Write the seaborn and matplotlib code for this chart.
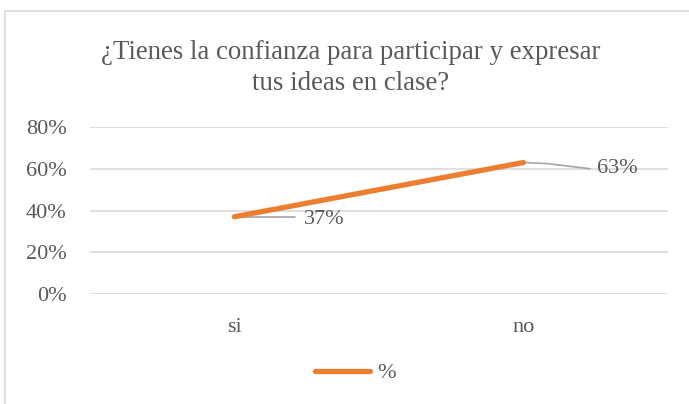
import pandas as pd
import matplotlib.pyplot as plt
import seaborn as sns
from matplotlib.patches import Rectangle

# data
categories = ['si', 'no']
values = [0.37, 0.63]
y_ticks = [0, 0.2, 0.4, 0.6, 0.8]
y_tick_labels = ['0%', '20%', '40%', '60%', '80%']
title = '¿Tienes la confianza para participar y expresar\ntus ideas en clase?'
series_name = '%'

df = pd.DataFrame({'cat': categories, 'val': values})

sns.set_theme(style='white')
plt.rcParams['font.family'] = ['Liberation Serif', 'DejaVu Serif']

gray = '#595959'
orange = '#ED7D31'

fig = plt.figure(figsize=(6.89, 4.04), dpi=100)
ax = fig.add_axes([90 / 689, 1 - 294 / 404, 578 / 689, 167 / 404])

sns.lineplot(data=df, x='cat', y='val', ax=ax, color=orange, linewidth=3.8,
             solid_capstyle='round', label=series_name, sort=False)

ax.set_xlim(-0.5, 1.5)
ax.set_ylim(0, 0.8)
ax.set_yticks(y_ticks)
ax.set_yticklabels(y_tick_labels)
ax.set_xlabel('')
ax.set_ylabel('')
ax.yaxis.grid(True, color='#d9d9d9', linewidth=1.2)
ax.set_axisbelow(True)
for s in ax.spines.values():
    s.set_visible(False)
ax.tick_params(axis='both', colors=gray, labelsize=16, length=0)
ax.tick_params(axis='y', pad=17)
ax.tick_params(axis='x', pad=17)

# data labels with leader lines
ax.plot([0, 0.21], [values[0], values[0]], color='#a6a6a6', linewidth=1.2, zorder=1)
ax.text(0.24, values[0] - 0.015, '37%', color=gray, fontsize=16, va='center', ha='left')
ax.plot([1, 1.08, 1.23], [values[1], values[1] - 0.005, values[1] - 0.03],
        color='#a6a6a6', linewidth=1.2, zorder=1)
ax.text(1.255, values[1] - 0.03, '63%', color=gray, fontsize=16, va='center', ha='left')

fig.text(351 / 689, 1 - 68 / 404, title, ha='center', va='center', color=gray,
         fontsize=19.4, linespacing=1.3)

leg = ax.legend(loc='center', bbox_to_anchor=(355 / 689, 1 - 373 / 404), bbox_transform=fig.transFigure,
                frameon=False, fontsize=16, handlelength=2.5, handletextpad=0.3)
for t in leg.get_texts():
    t.set_color(gray)

# chart border
fig.patches.append(Rectangle((5 / 689, -0.1), 1.2, 1 - 11 / 404 + 0.1, transform=fig.transFigure,
                             fill=False, edgecolor='#d9d9d9', linewidth=1.2))

fig.savefig('out.png', dpi=100, facecolor='white')
